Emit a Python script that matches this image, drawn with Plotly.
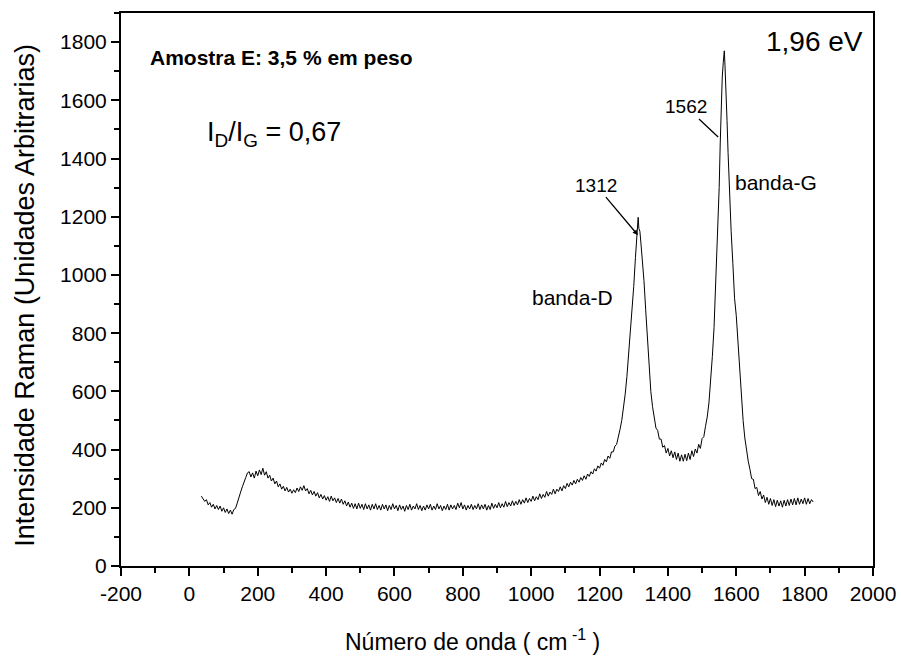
import plotly.graph_objects as go

# Raman spectrum (wavenumber in cm^-1, intensity in a.u.)
wn_background = [35, 40, 45, 50, 55, 60, 65, 70, 75, 80, 85, 90, 95, 100, 105, 110, 115, 120, 125, 130,
                 135, 140, 145, 150, 155, 160, 165, 170, 175, 180, 185, 190, 195, 200, 205, 210, 215, 220, 225, 230,
                 235, 240, 245, 250, 255, 260, 265, 270, 275, 280, 285, 290, 295, 300, 305, 310, 315, 320, 325, 330,
                 335, 340, 345, 350, 355, 360, 365, 370, 375, 380, 385, 390, 395, 400, 405, 410, 415, 420, 425, 430,
                 435, 440, 445, 450, 455, 460, 465, 470, 475, 480, 485, 490, 495, 500, 505, 510, 515, 520, 525, 530,
                 535, 540, 545, 550, 555, 560, 565, 570, 575, 580, 585, 590, 595, 600, 605, 610, 615, 620, 625, 630,
                 635, 640, 645, 650, 655, 660, 665, 670, 675, 680, 685, 690, 695, 700, 705, 710, 715, 720, 725, 730,
                 735, 740, 745, 750, 755, 760, 765, 770, 775, 780, 785, 790, 795, 800, 805, 810, 815, 820, 825, 830,
                 835, 840, 845, 850, 855, 860, 865, 870, 875, 880, 885, 890, 895, 900, 905, 910, 915, 920, 925, 930,
                 935, 940, 945, 950, 955, 960, 965, 970, 975, 980, 985, 990, 995, 1000, 1005, 1010, 1015, 1020, 1025,
                 1030, 1035, 1040, 1045, 1050, 1055, 1060, 1065, 1070, 1075, 1080, 1085, 1090, 1095, 1100, 1105, 1110,
                 1115, 1120, 1125, 1130, 1135, 1140, 1145, 1150, 1155, 1160, 1165, 1170, 1175, 1180, 1185, 1190, 1195,
                 1200, 1205, 1210, 1215, 1220, 1225, 1230, 1235, 1240, 1245, 1250]
int_background = [240, 230, 222, 228, 210, 218, 202, 212, 196, 208, 194, 206, 188, 200, 184, 196, 180, 192, 178, 194,
                  198, 216, 232, 254, 272, 292, 304, 320, 324, 306, 320, 302, 326, 310, 330, 314, 336, 312, 324, 302,
                  312, 292, 302, 282, 292, 272, 282, 264, 274, 258, 270, 254, 264, 250, 262, 252, 268, 256, 272, 260,
                  276, 258, 266, 248, 260, 244, 256, 240, 252, 234, 246, 230, 242, 226, 238, 222, 240, 224, 234, 218,
                  232, 216, 230, 212, 224, 206, 220, 202, 216, 198, 214, 196, 216, 198, 212, 194, 214, 196, 210, 192,
                  212, 196, 214, 194, 208, 192, 212, 196, 210, 190, 208, 194, 214, 196, 208, 190, 210, 194, 206, 188,
                  208, 194, 212, 192, 206, 196, 214, 194, 208, 190, 206, 192, 210, 196, 212, 192, 206, 194, 214, 196,
                  208, 190, 206, 194, 212, 192, 210, 196, 208, 194, 216, 200, 218, 196, 210, 192, 208, 196, 212, 194,
                  208, 196, 214, 194, 210, 196, 212, 192, 208, 194, 216, 198, 212, 200, 218, 200, 214, 202, 222, 204,
                  218, 206, 224, 208, 222, 210, 228, 212, 228, 216, 234, 218, 232, 222, 240, 224, 238, 228, 248,
                  232, 246, 236, 256, 240, 254, 246, 264, 248, 264, 256, 272, 258, 276, 266, 284, 272,
                  288, 278, 294, 282, 298, 288, 304, 294, 310, 298, 316, 308, 324, 316, 334, 326, 344,
                  336, 354, 346, 366, 358, 378, 370, 392, 392, 412, 418]

wn_d_band = [1255, 1260, 1265, 1270, 1275, 1280, 1285, 1290, 1295, 1300, 1305, 1308, 1311, 1313, 1315, 1318,
             1321, 1325, 1330, 1335, 1340, 1345]
int_d_band = [440, 470, 500, 540, 590, 650, 720, 800, 880, 960, 1060, 1120, 1175, 1198, 1160, 1150,
              1110, 1060, 980, 880, 780, 680]

wn_valley = [1350, 1355, 1360, 1365, 1370, 1375, 1380, 1385, 1390, 1395, 1400, 1405, 1410, 1415, 1420, 1425,
             1430, 1435, 1440, 1445, 1450, 1455, 1460, 1465, 1470, 1475, 1480, 1485, 1490, 1495, 1500, 1505,
             1510, 1515]
int_valley = [600, 548, 514, 474, 466, 436, 436, 408, 414, 388, 404, 378, 396, 372, 392, 366,
              388, 360, 382, 360, 384, 362, 388, 366, 396, 376, 402, 388, 418, 404, 438, 444,
              480, 512]

wn_g_band = [1520, 1525, 1530, 1535, 1540, 1545, 1550, 1553, 1556, 1559, 1562, 1565, 1567, 1570, 1573, 1576,
             1580, 1585, 1590, 1595, 1600, 1605, 1610, 1615, 1620, 1625, 1630, 1635]
int_g_band = [560, 630, 720, 820, 960, 1110, 1300, 1450, 1600, 1680, 1730, 1770, 1720, 1640, 1530, 1420,
              1270, 1150, 1040, 920, 860, 760, 670, 560, 500, 440, 390, 360]

wn_tail = [1640, 1645, 1650, 1655, 1660, 1665, 1670, 1675, 1680, 1685, 1690, 1695, 1700, 1705, 1710, 1715,
           1720, 1725, 1730, 1735, 1740, 1745, 1750, 1755, 1760, 1765, 1770, 1775, 1780, 1785, 1790, 1795,
           1800, 1805, 1810, 1815, 1820, 1825]
int_tail = [332, 300, 298, 266, 270, 242, 256, 230, 244, 218, 236, 212, 232, 208, 228, 204,
            226, 206, 224, 202, 226, 206, 228, 208, 230, 210, 232, 210, 234, 212, 230, 214,
            234, 212, 232, 214, 228, 220]

wavenumber = wn_background + wn_d_band + wn_valley + wn_g_band + wn_tail
intensity = int_background + int_d_band + int_valley + int_g_band + int_tail

x_ticks = [-200, 0, 200, 400, 600, 800, 1000, 1200, 1400, 1600, 1800, 2000]
y_ticks = [0, 200, 400, 600, 800, 1000, 1200, 1400, 1600, 1800]

x_title = "Número de onda ( cm<sup> -1</sup> )"
y_title = "Intensidade Raman (Unidades Arbitrarias)"
sample_label = "Amostra E: 3,5 % em peso"
ratio_label = "I<sub>D</sub>/I<sub>G</sub> = 0,67"
energy_label = "1,96 eV"
peak_d = (1312, 1137)
peak_g = (1547, 1474)

FONT = "Arial, Liberation Sans, Helvetica, sans-serif"

fig = go.Figure()
fig.add_trace(go.Scatter(x=wavenumber, y=intensity, mode="lines",
                         line=dict(color="black", width=1), showlegend=False))

axis_common = dict(
    showline=True, linecolor="black", linewidth=2, mirror=True,
    showgrid=False, zeroline=False,
    ticks="outside", ticklen=8, tickwidth=1.5, tickcolor="black",
    tickfont=dict(family=FONT, size=21, color="black"),
)

fig.update_xaxes(range=[-200, 2000], tickvals=x_ticks, ticktext=[str(v) for v in x_ticks],
                 minor=dict(dtick=100, tick0=-200, ticks="outside", ticklen=5, tickwidth=1.5, tickcolor="black"),
                 **axis_common)
fig.update_yaxes(range=[0, 1900], tickvals=y_ticks, ticktext=[str(v) for v in y_ticks],
                 minor=dict(dtick=100, tick0=0, ticks="outside", ticklen=5, tickwidth=1.5, tickcolor="black"),
                 **axis_common)

annotations = [
    dict(text=x_title, xref="paper", yref="paper", x=0.467, y=-0.134,
         xanchor="center", yanchor="middle", showarrow=False, font=dict(family=FONT, size=23, color="black")),
    dict(text=y_title, xref="paper", yref="paper", x=-0.128, y=0.49, textangle=-90,
         xanchor="center", yanchor="middle", showarrow=False, font=dict(family=FONT, size=27, color="black")),
    dict(text="<b>" + sample_label + "</b>", xref="paper", yref="paper", x=0.036, y=0.919,
         xanchor="left", yanchor="middle", showarrow=False, font=dict(family=FONT, size=21, color="black")),
    dict(text=ratio_label, xref="paper", yref="paper", x=0.112, y=0.782,
         xanchor="left", yanchor="middle", showarrow=False, font=dict(family=FONT, size=27, color="black")),
    dict(text=energy_label, xref="paper", yref="paper", x=0.99, y=0.948,
         xanchor="right", yanchor="middle", showarrow=False, font=dict(family=FONT, size=28, color="black")),
    dict(text="banda-D", xref="paper", yref="paper", x=0.544, y=0.486,
         xanchor="left", yanchor="middle", showarrow=False, font=dict(family=FONT, size=21, color="black")),
    dict(text="banda-G", xref="paper", yref="paper", x=0.814, y=0.694,
         xanchor="left", yanchor="middle", showarrow=False, font=dict(family=FONT, size=21, color="black")),
    dict(text="1312", x=peak_d[0], y=peak_d[1], xref="x", yref="y", ax=-42, ay=-50,
         showarrow=True, arrowhead=2, arrowsize=0.8, arrowwidth=1.3, arrowcolor="black",
         font=dict(family=FONT, size=19, color="black")),
    dict(text="1562", x=peak_g[0], y=peak_g[1], xref="x", yref="y", ax=-32, ay=-30,
         showarrow=True, arrowhead=0, arrowwidth=1.3, arrowcolor="black",
         font=dict(family=FONT, size=19, color="black")),
]

fig.update_layout(
    width=901, height=657,
    margin=dict(l=121, r=28, t=13, b=91, autoexpand=False),
    paper_bgcolor="white", plot_bgcolor="white",
    font=dict(family=FONT, color="black"),
    annotations=annotations,
)

fig.write_html("out.html", config={"displayModeBar": False},
               post_script="document.body.style.margin='0';")
